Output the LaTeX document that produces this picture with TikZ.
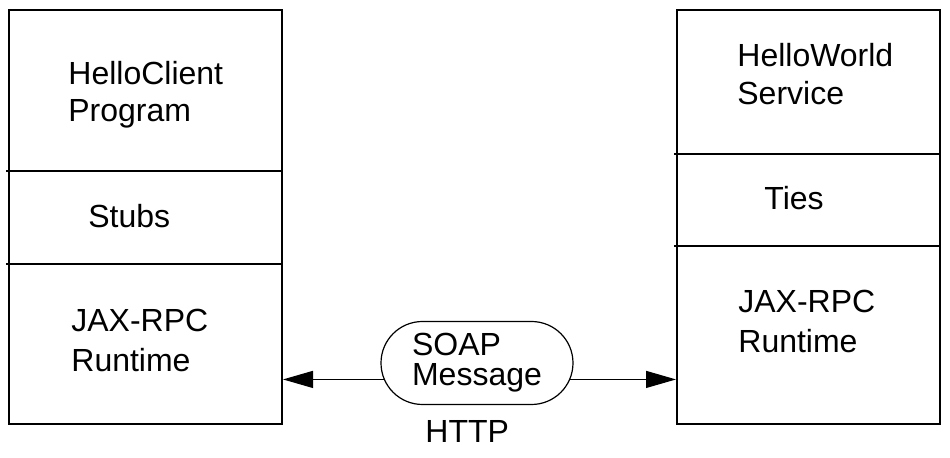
\documentclass[tikz,border=0pt]{standalone}
\usepackage{fontspec}
\setmainfont{Liberation Sans}
\usetikzlibrary{arrows.meta,shapes.misc}

\tikzset{frame/.style={draw,line width=1pt,inner sep=0pt},
  sep/.style={line width=1pt},
  lbl/.style={inner sep=0pt,anchor=base west,align=left,font=\fontsize{16}{18.5}\selectfont},
  link/.style={line width=.6pt,-{Triangle[length=15pt,width=8.5pt]}}}

\begin{document}
\begin{tikzpicture}[x=.5pt,y=-.5pt]
\useasboundingbox (0,0) rectangle (950,458);
% client side
\node[frame,minimum width=136.5pt,minimum height=207pt] (client) at (145.5,217) {};
\draw[sep] (6,171) -- (282,171);
\draw[sep] (6,264) -- (282,264);
\node[lbl] (prog) at (68,122) {HelloClient\\Program};
\node[lbl] (stubs) at (88,228) {Stubs};
\node[lbl,font=\fontsize{16}{20}\selectfont] (crt) at (71,372) {JAX-RPC\\Runtime};
% service side
\node[frame,minimum width=131.5pt,minimum height=207pt] (service) at (808.5,217) {};
\draw[sep] (674,154) -- (940,154);
\draw[sep] (674,246) -- (940,246);
\node[lbl,font=\fontsize{16}{19}\selectfont] (svc) at (737,105) {HelloWorld\\Service};
\node[lbl] (ties) at (764,210) {Ties};
\node[lbl,font=\fontsize{16}{20}\selectfont] (srt) at (738,353) {JAX-RPC\\Runtime};
% message
\node[draw,rounded rectangle,line width=.6pt,minimum width=100pt,minimum height=41.5pt,
  inner xsep=2pt,align=left,font=\fontsize{16}{15}\selectfont] (soap) at (477,363) {SOAP\\Message};
\node[lbl] (http) at (425,443) {HTTP};
\draw[link] (soap.190) -- (soap.190 -| client.east);
\draw[link] (soap.-10) -- (soap.-10 -| service.west);
\end{tikzpicture}
\end{document}
